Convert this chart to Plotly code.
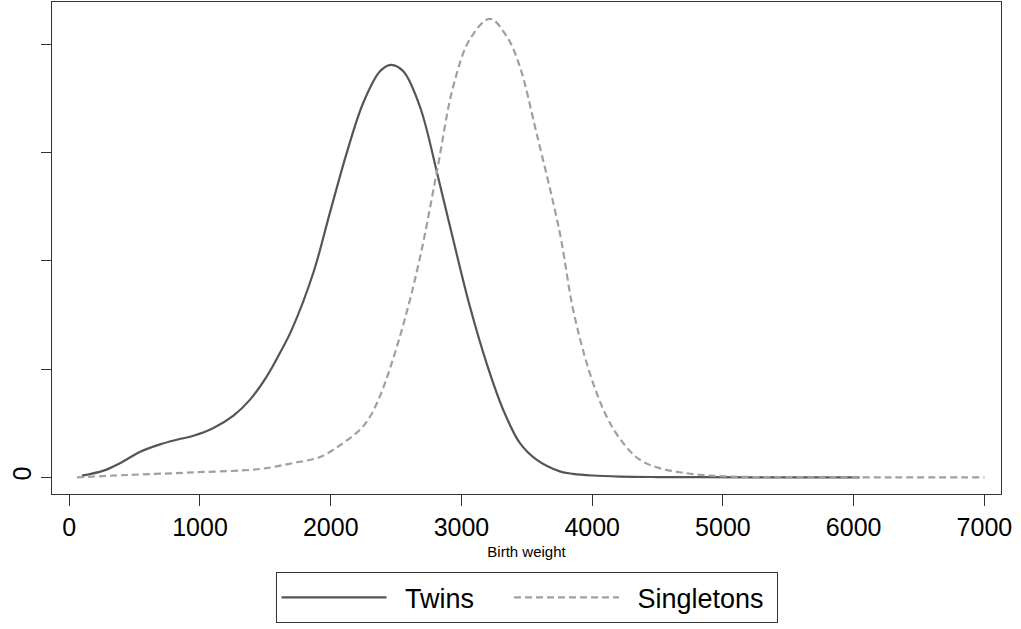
import plotly.graph_objects as go

# Kernel density estimates of birth weight (grams)
twins_weight = [97, 262, 390, 543, 695, 823, 950, 1103, 1256, 1383, 1511, 1612, 1702,
                1867, 1994, 2122, 2249, 2377, 2461, 2555, 2682, 2822, 2937, 3064,
                3192, 3319, 3446, 3574, 3752, 3854, 4000, 4211, 4500, 4822, 5400, 6045]
twins_density = [0.0000031, 0.0000124, 0.0000266, 0.0000475, 0.000061, 0.0000695,
                 0.000077, 0.0000913, 0.000114, 0.0001436, 0.0001866, 0.00023, 0.000273,
                 0.000378, 0.000489, 0.000599, 0.000692, 0.00075, 0.000762,
                 0.00075, 0.000685, 0.000554, 0.000439, 0.000316, 0.000211, 0.000125,
                 0.0000636, 0.0000327, 0.0000111, 0.0000065, 0.0000035, 0.0000015,
                 0.0000006, 0.0000003, 0.0000001, 0.0]

single_weight = [59, 441, 950, 1460, 1714, 1918, 2096, 2224, 2300, 2364, 2428, 2555,
                 2682, 2810, 2937, 3064, 3217, 3345, 3446, 3574, 3752, 3854, 3981, 4109,
                 4236, 4363, 4516, 4669, 4822, 4998, 5181, 5600, 6300, 7000]
single_density = [0.0, 0.0000044, 0.0000092, 0.0000155, 0.0000266, 0.0000377, 0.0000636,
                  0.0000881, 0.000112, 0.000143, 0.000183, 0.000282, 0.000405, 0.000562,
                  0.000722, 0.000809, 0.000847, 0.000815, 0.000759, 0.000636, 0.000452,
                  0.00031, 0.000193, 0.000113, 0.0000636, 0.0000327, 0.000017, 0.0000095,
                  0.0000048, 0.000002, 0.0000008, 0.0000003, 0.0000001, 0.0]

x_ticks = [0, 1000, 2000, 3000, 4000, 5000, 6000, 7000]
y_ticks = [0, 0.0002, 0.0004, 0.0006, 0.0008]
y_ticktext = ["0", "", "", "", ""]

series_names = ["Twins", "Singletons"]

NB = "\u00a0"
EN = "\u2002"

fig = go.Figure()
fig.add_trace(go.Scatter(x=twins_weight, y=twins_density, mode="lines",
                         name=EN + series_names[0] + NB * 4,
                         line=dict(color="#555555", width=2.2, shape="spline", smoothing=1.0)))
fig.add_trace(go.Scatter(x=single_weight, y=single_density, mode="lines",
                         name=EN + series_names[1] + NB,
                         line=dict(color="#a0a0a0", width=2.2, dash="7px,4px",
                                   shape="spline", smoothing=1.0)))

fig.update_layout(
    width=1021, height=629,
    margin=dict(l=52, r=20, t=2, b=135),
    paper_bgcolor="white", plot_bgcolor="white",
    font=dict(family="Liberation Sans, Arial, sans-serif", color="black"),
    showlegend=True,
    legend=dict(orientation="h", x=0.5, xanchor="center", y=-0.159, yanchor="top",
                bordercolor="#333333", borderwidth=1, font=dict(size=27),
                itemwidth=105, traceorder="normal", entrywidth=0),
    xaxis=dict(range=[-132, 7127], tickvals=x_ticks, ticks="outside", ticklen=11,
               tickwidth=1.2, tickcolor="#333333", showgrid=False, zeroline=False,
               showline=True, linecolor="#333333", linewidth=1.4, mirror=True,
               tickfont=dict(size=25), title=dict(text="Birth weight", font=dict(size=15),
                                                   standoff=6)),
    yaxis=dict(range=[-0.0000307, 0.000878], tickvals=y_ticks, ticktext=y_ticktext,
               ticks="outside", ticklen=10, tickwidth=1.2, tickcolor="#333333",
               showgrid=False, zeroline=False, showline=True, linecolor="#333333",
               linewidth=1.4, mirror=True, tickangle=-90, tickfont=dict(size=25)),
)

fig.write_html("out.html")
